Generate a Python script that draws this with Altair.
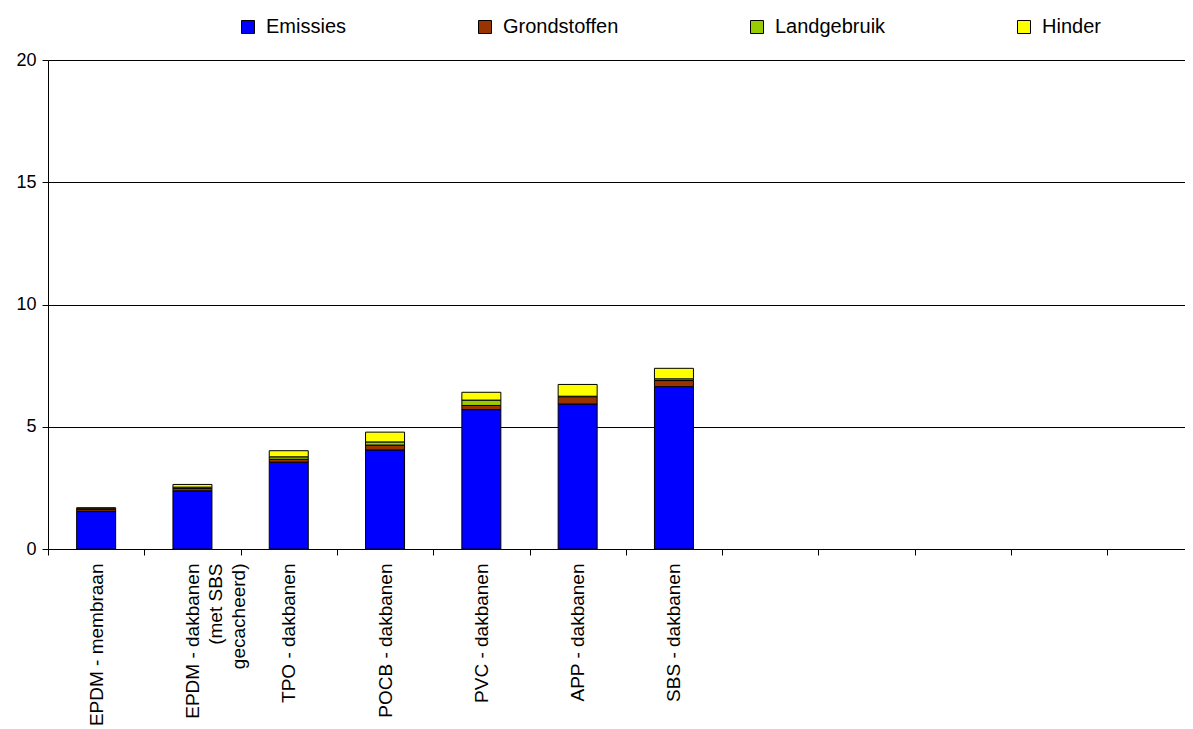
import altair as alt
import pandas as pd

categories = [
    "EPDM - membraan",
    "EPDM - dakbanen|(met SBS|gecacheerd)",
    "TPO - dakbanen",
    "POCB - dakbanen",
    "PVC - dakbanen",
    "APP - dakbanen",
    "SBS - dakbanen",
]
empty_slots = [" ", "  ", "   ", "    ", "     "]

series = ["Emissies", "Grondstoffen", "Landgebruik", "Hinder"]
colors = ["#0000FF", "#993300", "#99CC00", "#FFFF00"]

emissies = [1.53, 2.38, 3.55, 4.05, 5.70, 5.93, 6.64]
grondstoffen = [0.08, 0.10, 0.12, 0.20, 0.17, 0.30, 0.25]
landgebruik = [0.04, 0.05, 0.10, 0.13, 0.22, 0.02, 0.07]
hinder = [0.04, 0.11, 0.25, 0.40, 0.32, 0.48, 0.43]

values = [emissies, grondstoffen, landgebruik, hinder]
rows = []
for si, (name, vals) in enumerate(zip(series, values)):
    for cat, v in zip(categories, vals):
        rows.append({"cat": cat, "serie": name, "value": v, "order": si})
df = pd.DataFrame(rows)

FONT = "Liberation Sans"

bars = alt.Chart(df).mark_bar(
    width={"band": 0.405}, stroke="black", strokeWidth=1
).encode(
    x=alt.X(
        "cat:N",
        scale=alt.Scale(domain=categories + empty_slots, range=[0, 1155.6],
                        paddingInner=0, paddingOuter=0),
        sort=None,
        axis=alt.Axis(
            title=None, domain=False, ticks=True, tickColor="black", tickSize=6,
            tickBand="extent", labelAngle=-90, labelFontSize=19, labelFont=FONT,
            labelColor="black", labelPadding=8, labelLineHeight=23,
            labelLimit=400, labelOverlap=False,
            labelExpr="split(datum.label, '|')",
        ),
    ),
    y=alt.Y(
        "value:Q", stack="zero",
        scale=alt.Scale(domain=[0, 20], nice=False),
        axis=alt.Axis(
            title=None, values=[0, 5, 10, 15, 20], grid=True, gridColor="black",
            gridWidth=1, domain=True, domainColor="black", tickColor="black",
            tickSize=6, labelFontSize=18, labelFont=FONT, labelColor="black",
            labelPadding=6,
        ),
    ),
    color=alt.Color(
        "serie:N",
        scale=alt.Scale(domain=series, range=colors),
        legend=alt.Legend(
            title=None, orient="none", legendX=190, legendY=-43,
            direction="horizontal", columns=4, columnPadding=128,
            symbolType="square", symbolSize=169, symbolStrokeColor="black",
            symbolStrokeWidth=1, symbolOpacity=1,
            labelFontSize=20, labelFont=FONT, labelColor="black", labelOffset=8,
        ),
    ),
    order=alt.Order("order:Q", sort="ascending"),
)

chart = bars.properties(
    width=1137, height=489,
    padding={"left": 40, "top": 52, "right": 0, "bottom": 178},
    autosize=alt.AutoSizeParams(type="none"),
).configure_view(strokeWidth=0).configure(background="white")

chart.save("out.html", embed_options={"renderer": "svg", "actions": False})
